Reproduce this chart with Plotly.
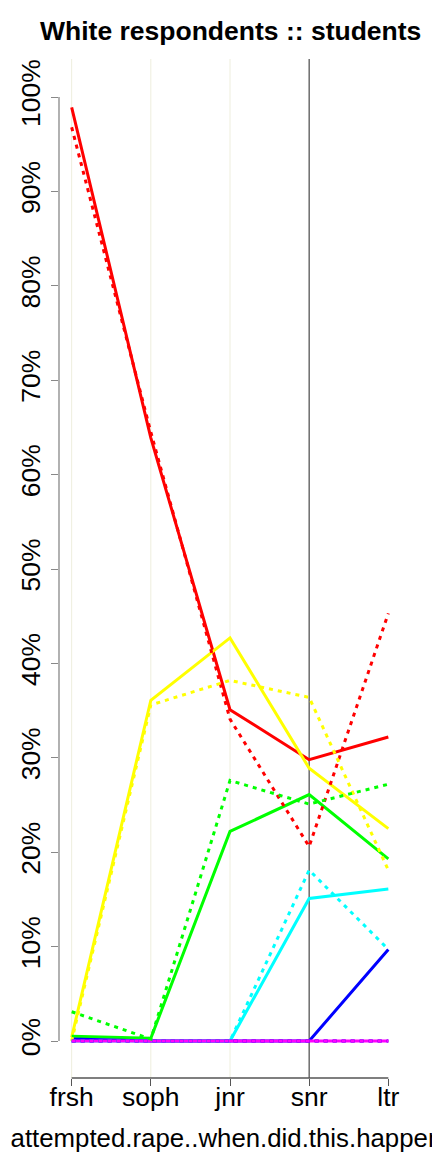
import plotly.graph_objects as go

# Categories (x) and tick labels
categories = ["frsh", "soph", "jnr", "snr", "ltr"]
y_tick_vals = [0.0, 0.1, 0.2, 0.3, 0.4, 0.5, 0.6, 0.7, 0.8, 0.9, 1.0]
y_tick_text = ["0%", "10%", "20%", "30%", "40%", "50%", "60%", "70%", "80%", "90%", "100%"]

# Solid series (proportions)
solid_red = [0.989, 0.639, 0.351, 0.298, 0.322]
solid_yellow = [0.004, 0.361, 0.427, 0.289, 0.225]
solid_green = [0.005, 0.003, 0.222, 0.261, 0.193]
solid_cyan = [0.0, 0.0, 0.0, 0.151, 0.161]
solid_blue = [0.002, 0.0, 0.0, 0.0, 0.097]
solid_magenta = [0.0, 0.0, 0.0, 0.0, 0.0]

# Dotted series (proportions)
dot_red = [0.968, 0.645, 0.341, 0.206, 0.453]
dot_yellow = [0.0, 0.356, 0.382, 0.364, 0.181]
dot_green = [0.031, 0.002, 0.276, 0.251, 0.272]
dot_cyan = [0.0, 0.0, 0.0, 0.181, 0.097]
dot_blue = [0.0, 0.0, 0.0, 0.0, 0.0]
dot_magenta = [0.0, 0.0, 0.0, 0.0, 0.0]

colors = ["#FF0000", "#FFFF00", "#00FF00", "#00FFFF", "#0000FF", "#FF00FF"]
solid_series = [solid_red, solid_yellow, solid_green, solid_cyan, solid_blue, solid_magenta]
dot_series = [dot_red, dot_yellow, dot_green, dot_cyan, dot_blue, dot_magenta]

xpos = list(range(1, len(categories) + 1))

fig = go.Figure()
for vals, col in zip(solid_series, colors):
    fig.add_trace(go.Scatter(x=xpos, y=vals, mode="lines",
                             line=dict(color=col, width=3), showlegend=False))
for vals, col in zip(dot_series, colors):
    fig.add_trace(go.Scatter(x=xpos, y=vals, mode="lines",
                             line=dict(color=col, width=3, dash="4px,5px"), showlegend=False))

# vertical guide lines at each category (except last)
guide_colors = ["#EEEEDD", "#EEEEDD", "#EEEEDD", "#555555"]
for xv, gc in zip(xpos[:-1], guide_colors):
    fig.add_shape(type="line", xref="x", yref="paper", x0=xv, x1=xv, y0=0, y1=1,
                  line=dict(color=gc, width=1.3 if gc == "#555555" else 1), layer="below")

# R-style axis lines spanning only the tick range
fig.add_shape(type="line", xref="paper", yref="y", x0=0, x1=0,
              y0=y_tick_vals[0], y1=y_tick_vals[-1], line=dict(color="#888888", width=1.3))
fig.add_shape(type="line", xref="x", yref="paper", x0=xpos[0], x1=xpos[-1],
              y0=0, y1=0, line=dict(color="#555555", width=1.3))

font_family = "Liberation Sans, Arial, sans-serif"
fs = 26.5

fig.update_layout(
    width=432, height=1152,
    margin=dict(l=59, r=31, t=59, b=74),
    plot_bgcolor="white", paper_bgcolor="white",
    font=dict(family=font_family, size=fs, color="black"),
    showlegend=False,
    xaxis=dict(range=[0.84, 5.16], tickvals=xpos, ticktext=categories,
               ticks="outside", ticklen=7, tickcolor="#555555", tickwidth=1.3,
               showgrid=False, zeroline=False, showline=False, automargin=False,
               tickfont=dict(size=fs), ticklabelstandoff=-12,
               title=dict(text="attempted.rape..when.did.this.happen.",
                          font=dict(size=25.8), standoff=19)),
    yaxis=dict(range=[-0.0392, 1.0403], tickvals=y_tick_vals, ticktext=y_tick_text,
               tickangle=-90, ticks="outside", ticklen=7, tickcolor="#888888", tickwidth=1.3,
               showgrid=False, zeroline=False, showline=False, automargin=False,
               tickfont=dict(size=fs)),
    annotations=[dict(text="<b>White respondents :: students</b>", xref="paper", yref="paper",
                      x=0.5, y=1, xanchor="center", yanchor="middle",
                      yshift=28, showarrow=False, font=dict(size=fs, family=font_family))],
)

fig.write_html("out.html", config={"displayModeBar": False},
               post_script="document.body.style.margin='0px';")
